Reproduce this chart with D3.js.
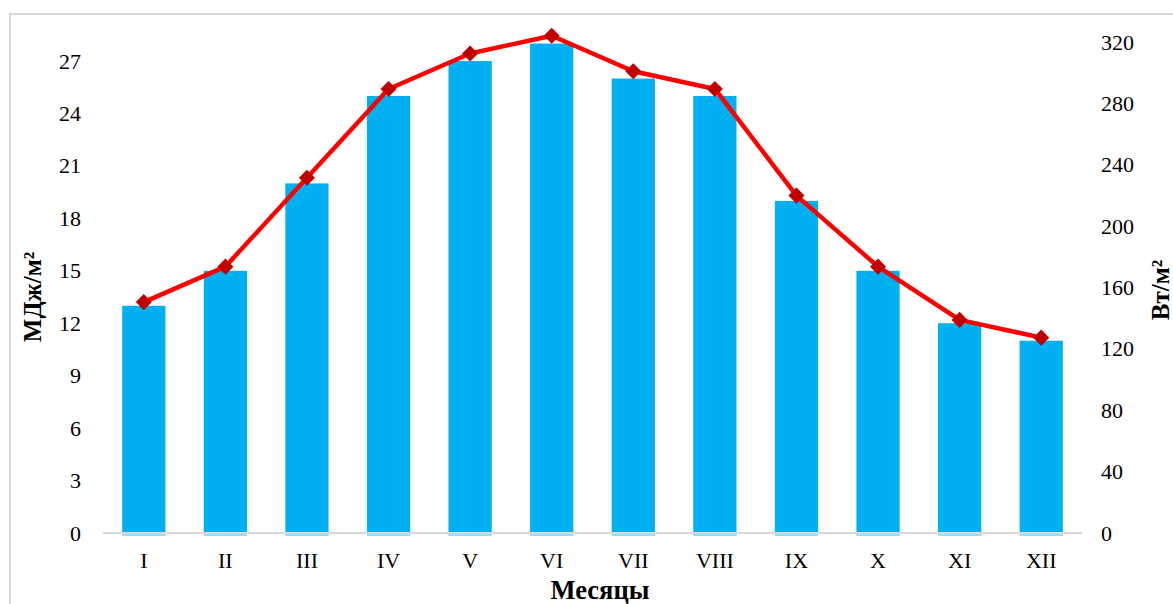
<!DOCTYPE html>
<html><head><meta charset="utf-8">
<script src="https://cdn.jsdelivr.net/npm/d3@7"></script>
<style>body{margin:0;background:#fff;} svg{display:block;font-family:"Liberation Serif","Times New Roman",serif;}</style>
</head><body>
<svg id="c" width="1173" height="604"></svg>
<script>
const months = ["I","II","III","IV","V","VI","VII","VIII","IX","X","XI","XII"];
const energyMJ = [13,15,20,25,27,28,26,25,19,15,12,11];
const powerW = [150.5,173.6,231.5,289.4,312.5,324.1,300.9,289.4,219.9,173.6,138.9,127.3];
const leftTicks = [0,3,6,9,12,15,18,21,24,27];
const rightTicks = [0,40,80,120,160,200,240,280,320];

(function(){
const svg = d3.select("#c");
const pTop = 42, pBottom = 533, pLeft = 103, pRight = 1082;

svg.append("rect").attr("x",10).attr("y",14).attr("width",1175).attr("height",600)
  .attr("fill","none").attr("stroke","#d9d9d9").attr("stroke-width",2);

const x = d3.scaleBand().domain(months).range([pLeft,pRight]).paddingInner(0.47).paddingOuter(0.235);
const yL = d3.scaleLinear().domain([0,28.09]).range([pBottom,pTop]);
const yR = d3.scaleLinear().domain([0,320]).range([pBottom,pTop]);

// bars
svg.append("g").selectAll("rect").data(energyMJ).join("rect")
  .attr("x",(d,i)=>x(months[i])).attr("width",x.bandwidth())
  .attr("y",d=>yL(d)).attr("height",d=>yL(0)-yL(d)+2)
  .attr("fill","#00b0f0");
svg.append("g").selectAll("rect").data(energyMJ).join("rect")
  .attr("x",(d,i)=>x(months[i])).attr("width",x.bandwidth())
  .attr("y",yL(0)+1).attr("height",2).attr("fill","#9fdcf2");

// x axis line
svg.append("line").attr("x1",pLeft).attr("x2",pRight).attr("y1",pBottom).attr("y2",pBottom)
  .attr("stroke","#d9d9d9").attr("stroke-width",2);

// left axis
const gL = svg.append("g").attr("transform",`translate(${pLeft},0)`)
  .call(d3.axisLeft(yL).tickValues(leftTicks).tickSize(0).tickPadding(22));
gL.select(".domain").remove();
gL.selectAll("text").attr("font-size",22).attr("font-family","Liberation Serif").attr("fill","#000");

// right axis
const gR = svg.append("g").attr("transform",`translate(${pRight},0)`)
  .call(d3.axisRight(yR).tickValues(rightTicks).tickSize(0).tickPadding(19));
gR.select(".domain").remove();
gR.selectAll("text").attr("font-size",22).attr("font-family","Liberation Serif").attr("fill","#000");

// bottom axis labels
const gB = svg.append("g").attr("transform",`translate(0,${pBottom})`)
  .call(d3.axisBottom(x).tickSize(0).tickPadding(19));
gB.select(".domain").remove();
gB.selectAll("text").attr("font-size",22).attr("font-family","Liberation Serif").attr("fill","#000");

// line
const cx = (d,i)=>x(months[i])+x.bandwidth()/2;
svg.append("path").datum(powerW)
  .attr("d",d3.line().x(cx).y(d=>yR(d)))
  .attr("fill","none").attr("stroke","#ff0000").attr("stroke-width",4.5).attr("stroke-linejoin","round");
svg.append("g").selectAll("path").data(powerW).join("path")
  .attr("d",d3.symbol(d3.symbolSquare,130))
  .attr("transform",(d,i)=>`translate(${cx(d,i)},${yR(d)}) rotate(45)`)
  .attr("fill","#c00000");

// titles
svg.append("text").attr("x",600).attr("y",599).attr("text-anchor","middle")
  .attr("font-size",26.5).attr("font-weight","bold").text("Месяцы");
svg.append("text").attr("transform","translate(41,297) rotate(-90)").attr("text-anchor","middle")
  .attr("font-size",25).attr("font-weight","bold").text("МДж/м²");
svg.append("text").attr("transform","translate(1169,290) rotate(-90)").attr("text-anchor","middle")
  .attr("font-size",25).attr("font-weight","bold").text("Вт/м²");
})();
</script>
</body></html>
